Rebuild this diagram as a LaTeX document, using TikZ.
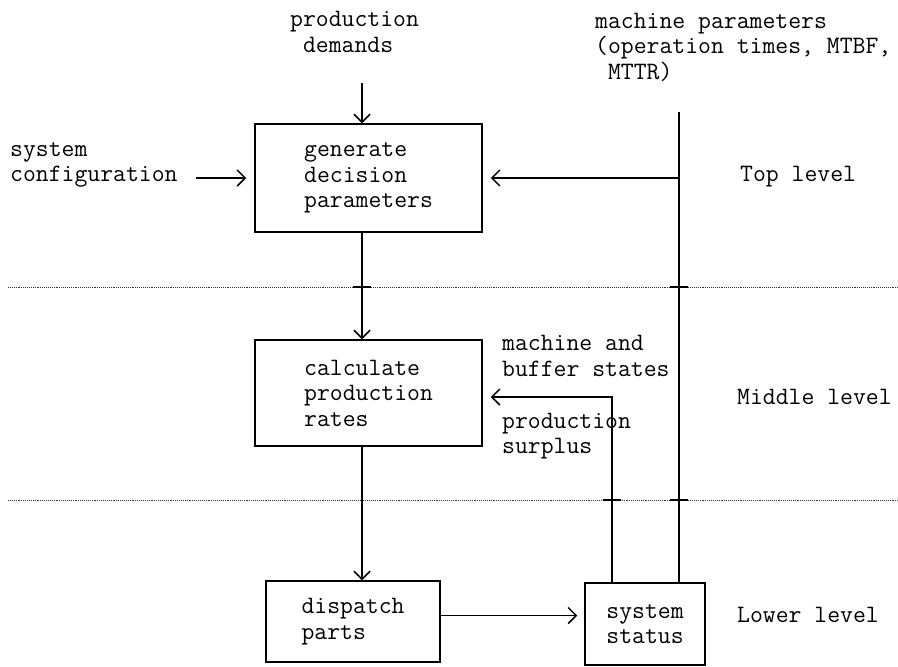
\documentclass[tikz,border=0pt]{standalone}
\usetikzlibrary{arrows.meta}

\begin{document}
\begin{tikzpicture}[x=1pt,y=-1pt,
        every node/.style={font=\fontsize{25}{25.5}\selectfont\ttfamily},
        box/.style={draw,line width=1.5pt,align=left,inner sep=0pt},
        lbl/.style={align=left,anchor=west,inner sep=0pt},
        arr/.style={line width=1.5pt,-{Straight Barb[length=8pt,width=16pt,line width=1.5pt]}},
        harr/.style={arr,line width=1.1pt},
        lvl/.style={densely dotted,line width=0.9pt,black!80}]
        \useasboundingbox (0,0) rectangle (898,667);
        % level separators
        \draw[lvl] (8,287) -- (898,287);
        \draw[lvl] (8,500) -- (898,500);
        \foreach \x/\y in {362/287,679/287,612/500,679/500}
            \draw[line width=1.5pt] (\x-9,\y) -- (\x+9,\y);
        % boxes
        \node[box,minimum width=227pt,minimum height=108pt] (gen) at (368.5,178) {generate\\decision\\parameters};
        \node[box,minimum width=227pt,minimum height=106pt] (calc) at (368.5,393) {calculate\\production\\rates};
        \node[box,minimum width=174pt,minimum height=81pt] (disp) at (353,621.5) {dispatch\\parts};
        \node[box,minimum width=120pt,minimum height=82pt] (stat) at (645,624) {system\\status};
        % labels
        \node[lbl] (dem) at (290,33) {production\\\phantom{(}demands};
        \node[lbl] (mpar) at (595,47) {machine parameters\\(operation times, MTBF,\\\phantom{(}MTTR)};
        \node[lbl] (cfg) at (10,165) {system\\configuration};
        \node[lbl] (mbs) at (502,356) {machine and\\buffer states};
        \node[lbl] (psur) at (502,436) {production\\surplus};
        \node[lbl] (top) at (740,177) {Top level};
        \node[lbl] (mid) at (737,397) {Middle level};
        \node[lbl] (low) at (737,615) {Lower level};
        \coordinate (axis) at (362,0);
        \coordinate (dtop) at (362,83);
        \coordinate (mline) at (679,112);
        \coordinate (sline) at (612,397);
        % flow
        \draw[arr] (dtop) -- (axis |- gen.north);
        \draw[arr] (axis |- gen.south) -- (axis |- calc.north);
        \draw[arr] (axis |- calc.south) -- (axis |- disp.north);
        \draw[harr,shorten <=18pt,shorten >=8pt] (cfg.east |- gen.west) -- (gen.west);
        \draw[harr,shorten >=7pt] ([yshift=6pt]disp.east) -- ([yshift=6pt]disp.east -| stat.west);
        % feedback
        \draw[line width=1.5pt] (mline) -- (mline |- stat.north);
        \draw[harr,shorten >=8pt] (mline |- gen.east) -- (gen.east);
        \draw[harr,shorten >=8pt] (sline |- stat.north) -- (sline) -- (sline -| calc.east);
\end{tikzpicture}
\end{document}
